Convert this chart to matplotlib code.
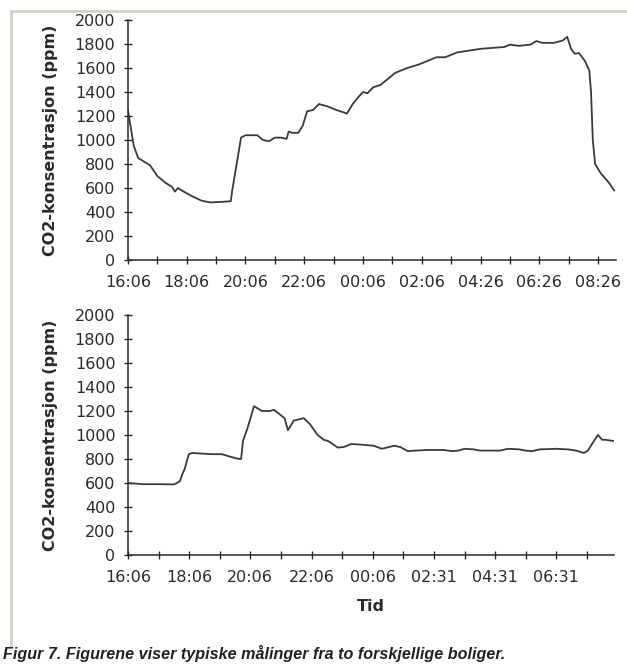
#!/usr/bin/env python3
"""CO2 concentration over one night in two dwellings."""

import matplotlib.pyplot as plt
from matplotlib.lines import Line2D

# hourly tick index from 16:06, CO2 in ppm
top_x = [0, 0.2, 0.35, 0.75, 0.78, 1.0, 1.3, 1.5, 1.6, 1.7, 1.9, 2.2, 2.5,
         2.8, 3.2, 3.5, 3.55, 3.7, 3.85, 4.0, 4.4, 4.6, 4.8, 5.0, 5.2, 5.4,
         5.47, 5.6, 5.8, 5.95, 6.1, 6.3, 6.5, 6.8, 7.1, 7.35, 7.45, 7.65,
         7.85, 8.0, 8.15, 8.35, 8.6, 8.8, 9.1, 9.5, 9.9, 10.2, 10.5, 10.8,
         11.2, 11.6, 12.0, 12.5, 12.8, 13.0, 13.3, 13.7, 13.9, 14.1, 14.5,
         14.8, 14.95, 15.08, 15.2, 15.35, 15.55, 15.7, 15.76, 15.82, 15.9,
         16.1, 16.35, 16.55]
top_co2 = [1250, 950, 850, 790, 780, 700, 640, 610, 570, 600, 570, 530, 495,
           480, 485, 490, 580, 800, 1020, 1040, 1040, 1000, 990, 1020, 1020,
           1010, 1070, 1060, 1060, 1120, 1240, 1250, 1300, 1280, 1250, 1230,
           1220, 1300, 1360, 1400, 1390, 1440, 1460, 1500, 1560, 1600, 1630,
           1660, 1690, 1690, 1730, 1745, 1760, 1770, 1775, 1795, 1785, 1795,
           1825, 1810, 1810, 1830, 1860, 1760, 1720, 1725, 1660, 1580, 1400,
           1000, 800, 720, 650, 580]
top_labels = ["16:06", "18:06", "20:06", "22:06", "00:06", "02:06",
              "04:26", "06:26", "08:26"]

bot_x = [0, 0.5, 1.0, 1.5, 1.6, 1.7, 1.77, 1.86, 1.99, 2.1, 2.75, 3.07, 3.33,
         3.63, 3.7, 3.76, 3.9, 4.12, 4.38, 4.64, 4.77, 4.97, 5.12, 5.23, 5.42,
         5.75, 5.95, 6.2, 6.4, 6.54, 6.86, 7.06, 7.3, 7.6, 8.04, 8.3, 8.7, 8.9,
         9.15, 9.4, 9.8, 10.33, 10.6, 10.8, 11.0, 11.3, 11.5, 12.16, 12.42,
         12.8, 13.0, 13.2, 13.46, 14.0, 14.38, 14.64, 14.9, 15.03, 15.23,
         15.36, 15.5, 15.6, 15.88]
bot_co2 = [600, 590, 590, 588, 600, 615, 667, 720, 840, 850, 840, 840, 820,
           800, 800, 950, 1050, 1240, 1200, 1200, 1210, 1170, 1140, 1040, 1120,
           1140, 1090, 1000, 960, 950, 895, 900, 925, 920, 910, 885, 910, 900,
           865, 870, 875, 875, 865, 870, 885, 880, 870, 870, 885, 880, 870,
           865, 880, 885, 880, 870, 850, 870, 950, 1000, 960, 960, 950]
bot_labels = ["16:06", "18:06", "20:06", "22:06", "00:06", "02:31",
              "04:31", "06:31"]

FONT = "DejaVu Sans"
INK = "#2a2a2a"


def style_axis(ax, n_ticks, labels, xmax):
    ax.set_xlim(0, xmax)
    ax.set_ylim(0, 2000)
    ax.set_yticks(range(0, 2001, 200))
    ax.set_xticks(range(n_ticks))
    ax.set_xticklabels([labels[i // 2] if i % 2 == 0 and i // 2 < len(labels) else ""
                        for i in range(n_ticks)])
    for side in ("top", "right"):
        ax.spines[side].set_visible(False)
    for side in ("left", "bottom"):
        ax.spines[side].set_color(INK)
        ax.spines[side].set_linewidth(1.1)
    ax.tick_params(direction="inout", length=6, width=1.0, color=INK,
                   labelsize=11.5, labelcolor=INK)
    ax.tick_params(axis="y", pad=6)
    ax.tick_params(axis="x", pad=8)
    for t in ax.get_xticklabels() + ax.get_yticklabels():
        t.set_fontfamily(FONT)
    ax.set_ylabel("CO2-konsentrasjon (ppm)", fontsize=11.5, fontweight="bold",
                  color=INK, family=FONT, labelpad=12)
    ax.set_facecolor("white")


fig = plt.figure(figsize=(6.27, 6.64), dpi=100)

ax1 = fig.add_axes([0.204, 0.6084, 0.778, 0.3614])
ax1.plot(top_x, top_co2, color="#3a3a3a", lw=1.3)
style_axis(ax1, 17, top_labels, 16.6)

ax2 = fig.add_axes([0.204, 0.1642, 0.775, 0.3614])
ax2.plot(bot_x, bot_co2, color="#3a3a3a", lw=1.3)
style_axis(ax2, 16, bot_labels, 15.88)
ax2.set_xlabel("Tid", fontsize=11.5, fontweight="bold", color=INK,
               family=FONT, labelpad=10)

# thin frame around the plots
frame = "#d6d0c8"
fig.add_artist(Line2D([11 / 627, 1.0], [1 - 11 / 664, 1 - 11 / 664],
                      transform=fig.transFigure, color=frame, lw=2))
fig.add_artist(Line2D([11 / 627, 11 / 627], [1 - 11 / 664, 1 - 645 / 664],
                      transform=fig.transFigure, color=frame, lw=2))

fig.text(3 / 627, 1 - 653 / 664,
         "Figur 7. Figurene viser typiske målinger fra to forskjellige boliger.",
         fontsize=11.6, style="italic", fontweight="bold", color="#222222",
         family="Liberation Sans", va="center", ha="left")

fig.savefig("out.png", dpi=100, facecolor="white")
